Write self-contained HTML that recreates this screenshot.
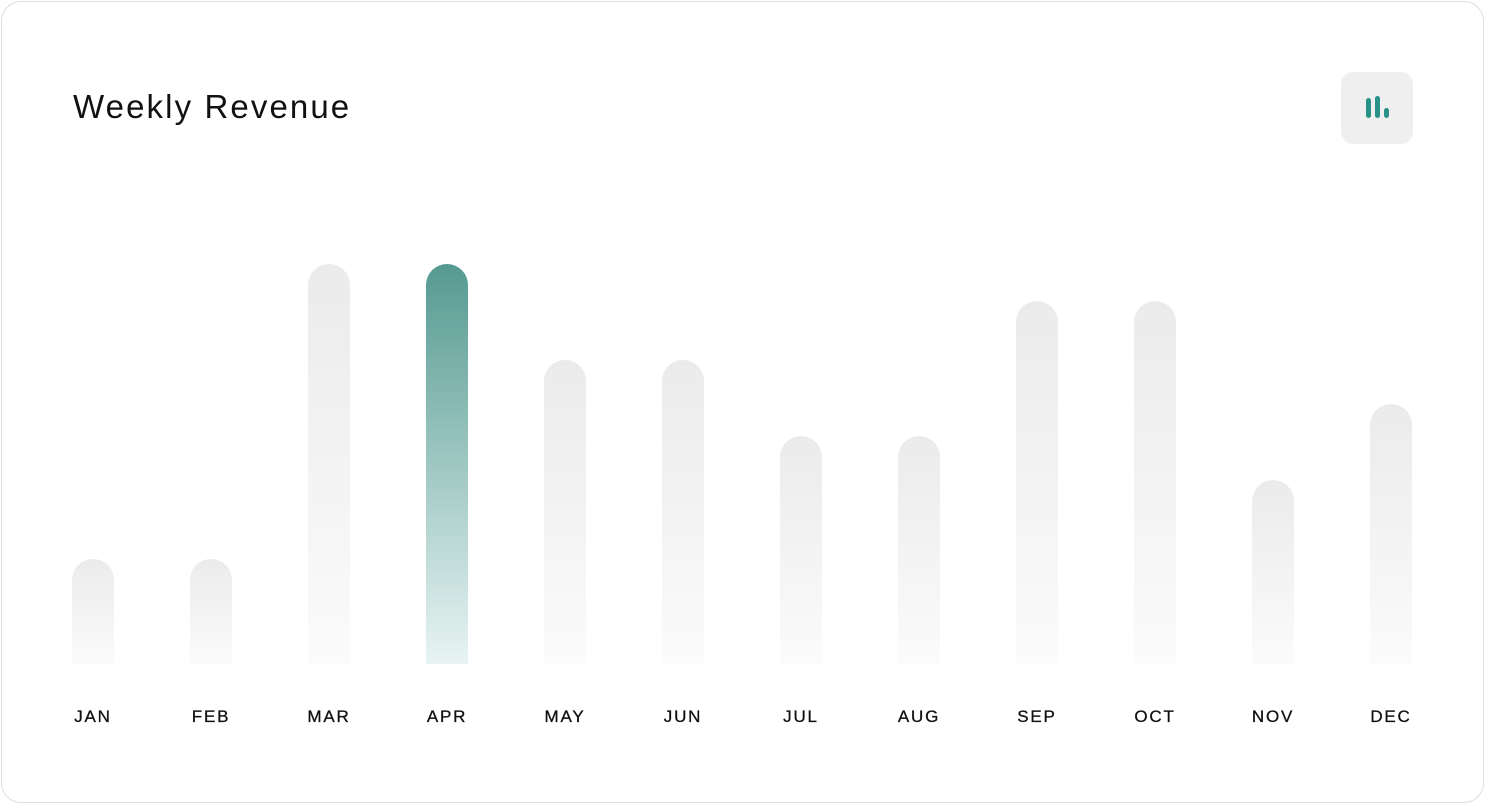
<!DOCTYPE html>
<html><head><style>
body{margin:0;width:1485px;height:804px;background:#fff;font-family:"Liberation Sans",sans-serif;overflow:hidden}
.card{position:absolute;left:1px;top:1px;width:1483px;height:802px;border:1px solid #dedede;border-radius:20px;box-sizing:border-box;background:#fff}
h1{position:absolute;left:73px;top:88px;margin:0;font-weight:400;font-size:33px;color:#111;letter-spacing:2.1px}
.ic{position:absolute;left:1341px;top:72px;width:72px;height:72px;border-radius:12px;background:#efeff0}
.ic i{position:absolute;width:5px;background:#2a9188;border-radius:2.5px}
.b{position:absolute;width:42px;bottom:140px;border-radius:21px 21px 0 0;background:linear-gradient(#ebebeb,#fbfbfb)}
.b.a{background:linear-gradient(#559a91,#e8f4f3)}
.l{position:absolute;top:707px;width:100px;text-align:center;font-size:17px;letter-spacing:1.8px;color:#111;-webkit-text-stroke:0.3px #111}
</style></head><body>
<div class="card"></div>
<h1>Weekly Revenue</h1>
<div class="ic"><i style="left:25px;top:26px;height:20px"></i><i style="left:34px;top:24px;height:22px;"></i><i style="left:43px;top:36px;height:10px"></i></div>
<div class="b" style="left:72px;top:559px"></div>
<div class="b" style="left:190px;top:559px"></div>
<div class="b" style="left:308px;top:264px"></div>
<div class="b a" style="left:426px;top:264px"></div>
<div class="b" style="left:544px;top:360px"></div>
<div class="b" style="left:662px;top:360px"></div>
<div class="b" style="left:780px;top:436px"></div>
<div class="b" style="left:898px;top:436px"></div>
<div class="b" style="left:1016px;top:301px"></div>
<div class="b" style="left:1134px;top:301px"></div>
<div class="b" style="left:1252px;top:480px"></div>
<div class="b" style="left:1370px;top:404px"></div>
<div class="l" style="left:43px">JAN</div>
<div class="l" style="left:161px">FEB</div>
<div class="l" style="left:279px">MAR</div>
<div class="l" style="left:397px">APR</div>
<div class="l" style="left:515px">MAY</div>
<div class="l" style="left:633px">JUN</div>
<div class="l" style="left:751px">JUL</div>
<div class="l" style="left:869px">AUG</div>
<div class="l" style="left:987px">SEP</div>
<div class="l" style="left:1105px">OCT</div>
<div class="l" style="left:1223px">NOV</div>
<div class="l" style="left:1341px">DEC</div>
</body></html>
